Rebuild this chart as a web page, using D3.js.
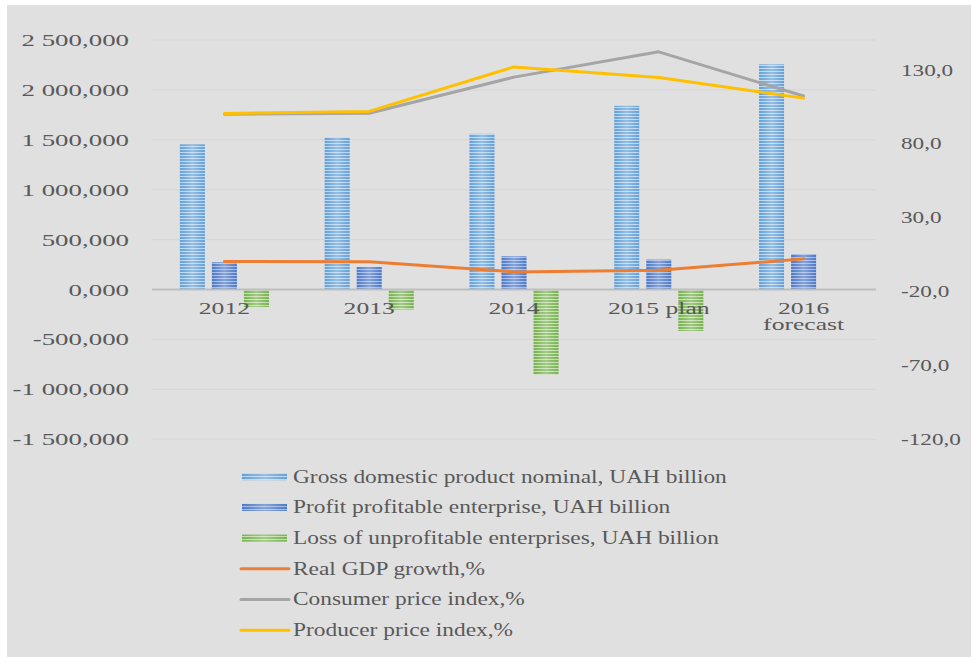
<!DOCTYPE html>
<html><head><meta charset="utf-8">
<script src="https://cdn.jsdelivr.net/npm/d3@7"></script>
<style>body{margin:0;background:#fff;overflow:hidden}</style></head>
<body><svg id="c" width="973" height="659"></svg>
<script>
// ---- data ----
const categories = ["2012", "2013", "2014", "2015 plan", "2016 forecast"];
const categoryLabels = [["2012"], ["2013"], ["2014"], ["2015 plan"], ["2016", "forecast"]];
const gdpNominal = [1455, 1522, 1560, 1840, 2256];
const profitEnterprise = [273, 226, 333, 300, 356];
const lossEnterprise = [-174, -200, -850, -414, 0];
const realGdpGrowth = [0.2, 0.0, -6.8, -5.7, 2.0];
const consumerPriceIndex = [99.8, 100.5, 124.9, 142.0, 112.1];
const producerPriceIndex = [100.3, 101.7, 131.8, 124.7, 110.7];
const leftTicks = [-1500, -1000, -500, 0, 500, 1000, 1500, 2000, 2500];
const rightTicks = [-120, -70, -20, 30, 80, 130];
const barSeries = ["Gross domestic product nominal, UAH billion", "Profit profitable enterprise, UAH billion", "Loss of unprofitable enterprises, UAH billion"];
const lineSeries = ["Real GDP growth,%", "Consumer price index,%", "Producer price index,%"];

// ---- layout ----
const svg = d3.select("#c");
const plot = {left: 152, right: 876, top: 40, bottom: 439.3};
const textColor = "#595959";
const font = "'Liberation Serif','Times New Roman',serif";
const leftSX = 1.68, rightSX = 1.45, catSX = 1.6, legendSX = 1.3;

svg.append("rect").attr("x", 7).attr("y", 5).attr("width", 964).attr("height", 652).attr("fill", "#e0e0e0");

const loc = d3.formatLocale({decimal: ",", thousands: " ", grouping: [3], currency: ["", ""], minus: "-"});
const fmtLeft = loc.format(",.3f");
const fmtRight = loc.format(".1f");

const x0 = d3.scaleBand().domain(categories).range([plot.left, plot.right]).padding(0);
const x1 = d3.scaleBand().domain(barSeries).range([0, x0.bandwidth()]).paddingInner(0.22).paddingOuter(0.87);
const yL = d3.scaleLinear().domain([-1500, 2500]).range([plot.bottom, plot.top]);
const yR = d3.scaleLinear().domain([-120, 150]).range([plot.bottom, plot.top]);

// ---- patterns ----
const defs = svg.append("defs");
const barColors = [
  {id: "pGdp", base: "#5b9bd5", light: "#b4d2ef"},
  {id: "pProfit", base: "#4472c4", light: "#9bb3e4"},
  {id: "pLoss", base: "#70ad47", light: "#bcdda5"}
];
barColors.forEach(c => {
  const p = defs.append("pattern").attr("id", c.id).attr("patternUnits", "userSpaceOnUse").attr("width", 4).attr("height", 3);
  p.append("rect").attr("width", 4).attr("height", 3).attr("fill", c.base);
  p.append("rect").attr("y", 2).attr("width", 4).attr("height", 1).attr("fill", c.light);
});
const g = defs.append("linearGradient").attr("id", "shine").attr("x1", 0).attr("x2", 1).attr("y1", 0).attr("y2", 0);
g.append("stop").attr("offset", "0%").attr("stop-color", "#fff").attr("stop-opacity", 0.05);
g.append("stop").attr("offset", "50%").attr("stop-color", "#fff").attr("stop-opacity", 0.35);
g.append("stop").attr("offset", "100%").attr("stop-color", "#fff").attr("stop-opacity", 0.05);

// ---- gridlines ----
svg.append("g").selectAll("line").data(leftTicks.filter(d => d !== 0)).join("line")
  .attr("x1", plot.left).attr("x2", plot.right)
  .attr("y1", d => yL(d)).attr("y2", d => yL(d))
  .attr("stroke", "#d6d6d6").attr("stroke-width", 1);

// ---- axes ----
const axL = svg.append("g").attr("transform", `translate(${plot.left},0)`)
  .call(d3.axisLeft(yL).tickValues(leftTicks).tickFormat(fmtLeft).tickSize(0));
axL.select(".domain").remove();
axL.selectAll("text").attr("font-family", font).attr("font-size", 16).attr("fill", textColor)
  .attr("x", -23 / leftSX).attr("dy", "0.34em").attr("transform", `scale(${leftSX},1)`);

const axR = svg.append("g").attr("transform", `translate(${plot.right},0)`)
  .call(d3.axisRight(yR).tickValues(rightTicks).tickFormat(fmtRight).tickSize(0));
axR.select(".domain").remove();
axR.selectAll("text").attr("font-family", font).attr("font-size", 16).attr("fill", textColor)
  .attr("x", 25 / rightSX).attr("dy", "0.34em").attr("transform", `scale(${rightSX},1)`);

// ---- bars ----
const barData = [gdpNominal, profitEnterprise, lossEnterprise];
const barsG = svg.append("g");
barSeries.forEach((s, si) => {
  const rows = categories.map((c, i) => ({c, v: barData[si][i]})).filter(d => d.v !== 0);
  const sel = barsG.append("g");
  const attrs = r => r
    .attr("x", d => x0(d.c) + x1(s))
    .attr("width", x1.bandwidth())
    .attr("y", d => yL(Math.max(0, d.v)))
    .attr("height", d => Math.abs(yL(d.v) - yL(0)));
  sel.selectAll("rect.b").data(rows).join("rect").attr("class", "b").call(attrs).attr("fill", `url(#${barColors[si].id})`);
  sel.selectAll("rect.s").data(rows).join("rect").attr("class", "s").call(attrs).attr("fill", "url(#shine)");
});

// zero line
svg.append("line").attr("x1", plot.left).attr("x2", plot.right).attr("y1", yL(0)).attr("y2", yL(0))
  .attr("stroke", "#bdbdbd").attr("stroke-width", 2);

// category labels
const catG = svg.append("g");
categories.forEach((c, i) => {
  const cx = x0(c) + x0.bandwidth() / 2;
  categoryLabels[i].forEach((t, li) => {
    catG.append("text").attr("x", cx / catSX).attr("y", 314 + li * 16)
      .attr("transform", `scale(${catSX},1)`)
      .attr("text-anchor", "middle").attr("font-family", font).attr("font-size", 16).attr("fill", textColor).text(t);
  });
});

// ---- lines ----
const lineData = [realGdpGrowth, consumerPriceIndex, producerPriceIndex];
const lineColors = ["#ed7d31", "#a5a5a5", "#ffc000"];
const lineGen = d3.line().x((d, i) => x0(categories[i]) + x0.bandwidth() / 2).y(d => yR(d));
lineSeries.forEach((s, si) => {
  svg.append("path").datum(lineData[si]).attr("d", lineGen)
    .attr("fill", "none").attr("stroke", lineColors[si]).attr("stroke-width", 3)
    .attr("stroke-linecap", "round").attr("stroke-linejoin", "round");
});

// ---- legend ----
const legItems = barSeries.map((s, i) => ({name: s, type: "bar", fill: `url(#${barColors[i].id})`}))
  .concat(lineSeries.map((s, i) => ({name: s, type: "line", color: lineColors[i]})));
const leg = svg.append("g");
legItems.forEach((d, i) => {
  const cy = 476.7 + i * 30.7;
  if (d.type === "bar") {
    leg.append("rect").attr("x", 242).attr("y", cy - 3.5).attr("width", 45).attr("height", 7).attr("fill", d.fill);
    leg.append("rect").attr("x", 242).attr("y", cy - 3.5).attr("width", 45).attr("height", 7).attr("fill", "url(#shine)");
  } else {
    leg.append("line").attr("x1", 241).attr("x2", 289).attr("y1", cy).attr("y2", cy)
      .attr("stroke", d.color).attr("stroke-width", 3).attr("stroke-linecap", "round");
  }
  leg.append("text").attr("x", 293 / legendSX).attr("y", cy + 6).attr("transform", `scale(${legendSX},1)`)
    .attr("font-family", font).attr("font-size", 18).attr("fill", textColor).text(d.name);
});
</script></body></html>
